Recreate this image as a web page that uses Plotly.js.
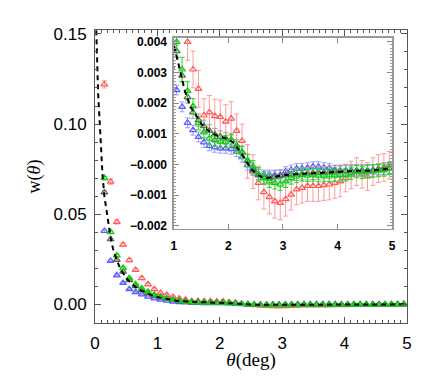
<!DOCTYPE html>
<html>
<head>
<meta charset="utf-8">
<script src="https://cdn.plot.ly/plotly-3.0.1.min.js"></script>
<style>
  html, body { margin: 0; padding: 0; background: #fff; }
  #chart { width: 436px; height: 383px; }
</style>
</head>
<body>
<div id="chart"></div>
<script>
// bin centres (deg)
var theta = [0.15, 0.25, 0.35, 0.45, 0.55, 0.65, 0.75, 0.85, 0.95, 1.05,
             1.15, 1.25, 1.35, 1.45, 1.55, 1.65, 1.75, 1.85, 1.95, 2.05,
             2.15, 2.25, 2.35, 2.45, 2.55, 2.65, 2.75, 2.85, 2.95, 3.05,
             3.15, 3.25, 3.35, 3.45, 3.55, 3.65, 3.75, 3.85, 3.95, 4.05,
             4.15, 4.25, 4.35, 4.45, 4.55, 4.65, 4.75, 4.85, 4.95];

var wRed = [0.122, 0.068, 0.0456, 0.033, 0.0244, 0.019, 0.0144, 0.011, 0.0083, 0.0062,
            0.0050, 0.0040, 0.0031, 0.00247, 0.0016, 0.0017, 0.00158, 0.00155, 0.0014, 0.0015,
            0.0011, 0.00077, 0.0001, -0.00023, -0.0006, -0.0009, -0.00106, -0.0012, -0.00125, -0.00113,
            -0.00098, -0.00081, -0.00076, -0.0007, -0.0007, -0.0007, -0.00067, -0.00065, -0.0006, -0.00055,
            -0.00044, -0.00034, -0.00023, -0.00032, -0.00039, -0.00023, -0.00013, -0.0001, -0.00002];
var eRed = [0.002, 0.0015, 0.0012, 0.001, 0.0009, 0.0008, 0.0008, 0.0007, 0.0007, 0.0006,
            0.0006, 0.0006, 0.0006, 0.0006, 0.00055, 0.00055, 0.00055, 0.00055, 0.00055, 0.00055,
            0.00055, 0.00055, 0.00055, 0.00055, 0.00055, 0.00055, 0.00055, 0.00055, 0.00055, 0.00055,
            0.0005, 0.0005, 0.0005, 0.0005, 0.0005, 0.0005, 0.0005, 0.0005, 0.0005, 0.0005,
            0.00045, 0.00045, 0.00045, 0.00045, 0.00045, 0.00045, 0.00045, 0.00045, 0.00045];

var wGreen = [0.070, 0.040, 0.027, 0.020, 0.0144, 0.011, 0.0087, 0.0068, 0.0052, 0.0040,
              0.0031, 0.0024, 0.0019, 0.00135, 0.00105, 0.00085, 0.0008, 0.00075, 0.00075, 0.0008,
              0.00056, 0.0004, 0.00014, -0.00007, -0.0003, -0.00045, -0.00055, -0.0006, -0.00065, -0.00055,
              -0.00044, -0.00039, -0.00034, -0.00036, -0.00034, -0.00036, -0.00036, -0.00035, -0.00035, -0.00034,
              -0.00034, -0.00028, -0.00023, -0.00026, -0.00023, -0.00021, -0.0002, -0.00018, -0.00013];
var eGreen = [0.001, 0.0008, 0.0006, 0.0005, 0.0005, 0.0005, 0.0005, 0.0005, 0.0005, 0.0005,
              0.0004, 0.0003, 0.00025, 0.00022, 0.00022, 0.0002, 0.0002, 0.0002, 0.0002, 0.0002,
              0.0002, 0.0002, 0.0002, 0.0002, 0.0002, 0.0002, 0.0002, 0.0002, 0.0002, 0.0002,
              0.0002, 0.0002, 0.0002, 0.0002, 0.0002, 0.0002, 0.0002, 0.0002, 0.0002, 0.0002,
              0.0002, 0.0002, 0.0002, 0.0002, 0.0002, 0.0002, 0.0002, 0.0002, 0.0002];

var wBlue = [0.0406, 0.024, 0.016, 0.0117, 0.0083, 0.0067, 0.0054, 0.0042, 0.0032, 0.00243,
             0.00188, 0.00136, 0.00112, 0.0009, 0.00072, 0.00061, 0.00056, 0.00053, 0.00053, 0.0005,
             0.00042, 0.00024, -0.00002, -0.00018, -0.00032, -0.00034, -0.00034, -0.00034, -0.00034, -0.00023,
             -0.00018, -0.00013, -0.00013, -0.0001, -0.00007, -0.00007, -0.0001, -0.00012, -0.00018, -0.00021,
             -0.0002, -0.0002, -0.00019, -0.0002, -0.00019, -0.00017, -0.00017, -0.00017, -0.00013];
var eBlue = [0.0006, 0.0004, 0.0003, 0.0003, 0.0002, 0.0002, 0.0002, 0.0002, 0.00018, 0.00016,
             0.00016, 0.00016, 0.00016, 0.00016, 0.00016, 0.00016, 0.00016, 0.00016, 0.00016, 0.00016,
             0.00016, 0.00016, 0.00016, 0.00016, 0.00016, 0.00016, 0.00016, 0.00016, 0.00016, 0.00016,
             0.00016, 0.00016, 0.00016, 0.00016, 0.00016, 0.00016, 0.00016, 0.00016, 0.00016, 0.00016,
             0.00016, 0.00016, 0.00016, 0.00016, 0.00016, 0.00016, 0.00016, 0.00016, 0.00016];

var wGray = [0.062, 0.036, 0.0245, 0.018, 0.0133, 0.0100, 0.0078, 0.0061, 0.0047, 0.0037,
             0.0029, 0.0022, 0.0017, 0.00145, 0.00125, 0.0011, 0.00098, 0.0009, 0.00085, 0.0008,
             0.00062, 0.0004, 0.00012, -0.00015, -0.00035, -0.00042, -0.00044, -0.0004, -0.00037, -0.00035,
             -0.00033, -0.00032, -0.0003, -0.0003, -0.00029, -0.00028, -0.00026, -0.00025, -0.00023, -0.00022,
             -0.00021, -0.0002, -0.0002, -0.0002, -0.0002, -0.0002, -0.00017, -0.00014, -0.00012];
var eGray = [0.0008, 0.0005, 0.0004, 0.0003, 0.0003, 0.0002, 0.0002, 0.0002, 0.0002, 0.0002,
             0.0002, 0.0002, 0.0002, 0.0002, 0.0002, 0.0002, 0.0002, 0.0002, 0.0002, 0.0002,
             0.0002, 0.0002, 0.0002, 0.0002, 0.0002, 0.0002, 0.0002, 0.0002, 0.0002, 0.0002,
             0.0002, 0.0002, 0.0002, 0.0002, 0.0002, 0.0002, 0.0002, 0.0002, 0.0002, 0.0002,
             0.0002, 0.0002, 0.0002, 0.0002, 0.0002, 0.0002, 0.0002, 0.0002, 0.0002];

// model curve (dashed)
var modelX = [0.02, 0.03, 0.05, 0.08, 0.10, 0.12, 0.15, 0.2, 0.25, 0.3, 0.35, 0.4, 0.5, 0.6, 0.7, 0.8, 0.9,
              1.0, 1.1, 1.2, 1.3, 1.4, 1.5, 1.6, 1.7, 1.8, 1.9, 2.0, 2.1, 2.2, 2.3, 2.4, 2.5, 2.6, 2.7,
              2.8, 2.9, 3.0, 3.2, 3.4, 3.6, 3.8, 4.0, 4.2, 4.4, 4.6, 4.8, 5.0];
var modelY = [0.152, 0.135, 0.117, 0.098, 0.084, 0.072, 0.060, 0.047, 0.037, 0.029, 0.024, 0.020, 0.0145,
              0.0108, 0.0083, 0.0065, 0.0050, 0.0039, 0.0031, 0.0024, 0.0019, 0.0016, 0.00133, 0.00115,
              0.00102, 0.00094, 0.00088, 0.00083, 0.0007, 0.00045, 0.0002, -0.0001, -0.0003, -0.0004,
              -0.00044, -0.00042, -0.00038, -0.00035, -0.00032, -0.0003, -0.00028, -0.00025, -0.00022,
              -0.0002, -0.0002, -0.0002, -0.00015, -0.00012];

var insetTicks = [-0.002, -0.001, 0, 0.001, 0.002, 0.003, 0.004];
var insetTickText = ['\u22120.002', '\u22120.001', '\u22120.000', '0.001', '0.002', '0.003', '0.004'];

var points = function(y, err, color, barColor, xa, ya, size) {
  return {
    x: theta, y: y, xaxis: xa, yaxis: ya,
    type: 'scatter', mode: 'markers',
    marker: {symbol: 'triangle-up-open', size: size, color: color, line: {width: 1.2}},
    error_y: {type: 'data', array: err, visible: true, color: barColor, thickness: 1, width: 2.5},
    showlegend: false, hoverinfo: 'skip'
  };
};
var model = function(xa, ya) {
  return {
    x: modelX, y: modelY, xaxis: xa, yaxis: ya,
    type: 'scatter', mode: 'lines',
    line: {color: '#000', width: 2, dash: '5px,4px'},
    showlegend: false, hoverinfo: 'skip'
  };
};

var data = [];
[['x', 'y', 6], ['x2', 'y2', 6]].forEach(function(a) {
  data.push(points(wRed, eRed, '#ff5a5a', '#ff9a9a', a[0], a[1], a[2]));
  data.push(points(wBlue, eBlue, '#5a5aff', '#9a9aff', a[0], a[1], a[2]));
  data.push(points(wGray, eGray, '#606060', '#a0a0a0', a[0], a[1], a[2]));
  data.push(points(wGreen, eGreen, '#10cc10', '#20dd20', a[0], a[1], a[2]));
  data.push(model(a[0], a[1]));
});

var mainFont = {family: '"Liberation Sans", Arial, sans-serif', size: 17, color: '#000'};
var titleFont = {family: '"Liberation Serif", "Times New Roman", serif', size: 19, color: '#000'};
var insetFont = {family: '"Liberation Sans", Arial, sans-serif', size: 12, color: '#000', weight: 'bold'};

var layout = {
  width: 436, height: 383,
  margin: {l: 95, r: 29, t: 30, b: 60},
  paper_bgcolor: '#fff', plot_bgcolor: '#fff',
  showlegend: false,
  xaxis: {
    domain: [0, 1], range: [0, 5], dtick: 1, tick0: 0,
    showgrid: false, zeroline: false,
    showline: true, linecolor: '#555', linewidth: 1, mirror: 'allticks',
    ticks: 'inside', ticklen: 6, tickcolor: '#555',
    minor: {ticks: 'inside', ticklen: 3, dtick: 0.1, tickcolor: '#555', showgrid: false},
    tickfont: mainFont, ticklabelstandoff: 5,
    title: {text: '<i>\u03b8</i>(deg)', font: titleFont, standoff: 0}
  },
  yaxis: {
    domain: [0, 1], range: [-0.0105, 0.1522], tickvals: [0, 0.05, 0.10, 0.15], tickformat: '.2f',
    showgrid: false, zeroline: false,
    showline: true, linecolor: '#555', linewidth: 1, mirror: 'allticks',
    ticks: 'inside', ticklen: 6, tickcolor: '#555',
    minor: {ticks: 'inside', ticklen: 3, dtick: 0.01, tickcolor: '#555', showgrid: false},
    tickfont: mainFont, ticklabelstandoff: 4,
    title: {text: 'w(<i>\u03b8</i>)', font: {family: titleFont.family, size: 18, color: '#000'}, standoff: 8}
  },
  xaxis2: {
    anchor: 'y2', domain: [0.253, 0.952], range: [1, 5], dtick: 1,
    showgrid: false, zeroline: false,
    showline: true, linecolor: '#999', linewidth: 1.5, mirror: 'allticks',
    ticks: 'inside', ticklen: 5, tickcolor: '#888',
    tickfont: insetFont, ticklabelstandoff: 5
  },
  yaxis2: {
    anchor: 'x2', domain: [0.321, 0.973], range: [-0.0021, 0.00413],
    tickvals: insetTicks, ticktext: insetTickText,
    showgrid: false, zeroline: false,
    showline: true, linecolor: '#999', linewidth: 1.5, mirror: 'allticks',
    ticks: 'inside', ticklen: 5, tickcolor: '#888',
    minor: {ticks: 'inside', ticklen: 2.5, dtick: 0.0001, tickcolor: '#999', showgrid: false},
    tickfont: insetFont, ticklabelstandoff: 3
  }
};

Plotly.newPlot('chart', data, layout, {displayModeBar: false, staticPlot: true});
</script>
</body>
</html>
